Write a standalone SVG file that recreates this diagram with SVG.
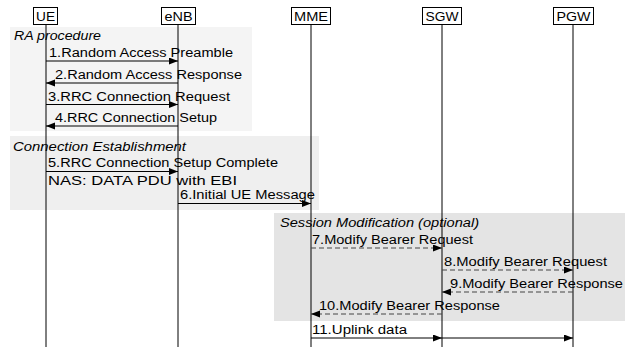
<svg xmlns="http://www.w3.org/2000/svg" width="631" height="351" viewBox="0 0 631 351">
<style>
text{font-family:"Liberation Sans",Arial,sans-serif;font-size:12px;fill:#000}
.it{font-style:italic}
.hd{fill:#fff;stroke:#000;stroke-width:1}
.life{stroke:#000;stroke-width:1}
.msg{stroke:#000;stroke-width:1;fill:none}
.dash{stroke:#444;stroke-width:1;stroke-dasharray:5 3;fill:none}
</style>
<defs>
<marker id="ah" markerWidth="10" markerHeight="8" refX="9" refY="3.5" orient="auto" markerUnits="userSpaceOnUse">
<path d="M0,0 L9,3.5 L0,7 Z" fill="#000"/>
</marker>
</defs>
<rect width="631" height="351" fill="#fff"/>
<g id="regions">
<rect x="10" y="27" width="242" height="104" fill="#f4f4f4"/>
<rect x="10" y="136" width="309" height="74" fill="#efefef"/>
<rect x="274" y="213" width="351" height="108" fill="#e4e4e4"/>
<text class="it" x="14" y="40" textLength="87" lengthAdjust="spacingAndGlyphs">RA procedure</text>
<text class="it" x="13" y="151" textLength="173" lengthAdjust="spacingAndGlyphs">Connection Establishment</text>
<text class="it" x="280" y="227" textLength="199" lengthAdjust="spacingAndGlyphs">Session Modification (optional)</text>
</g>
<g id="UE">
<line class="life" x1="46" y1="25" x2="46" y2="347"/>
<rect class="hd" x="33.5" y="7.5" width="24" height="17"/>
<text x="45.5" y="21" text-anchor="middle" textLength="19" lengthAdjust="spacingAndGlyphs">UE</text>
</g>
<g id="eNB">
<line class="life" x1="178" y1="25" x2="178" y2="347"/>
<rect class="hd" x="161.5" y="7.5" width="34" height="17"/>
<text x="178.5" y="21" text-anchor="middle" textLength="28" lengthAdjust="spacingAndGlyphs">eNB</text>
</g>
<g id="MME">
<line class="life" x1="311" y1="25" x2="311" y2="347"/>
<rect class="hd" x="291.5" y="7.5" width="39" height="17"/>
<text x="311" y="21" text-anchor="middle" textLength="34" lengthAdjust="spacingAndGlyphs">MME</text>
</g>
<g id="SGW">
<line class="life" x1="442" y1="25" x2="442" y2="347"/>
<rect class="hd" x="422.5" y="7.5" width="39" height="17"/>
<text x="442" y="21" text-anchor="middle" textLength="33" lengthAdjust="spacingAndGlyphs">SGW</text>
</g>
<g id="PGW">
<line class="life" x1="573" y1="25" x2="573" y2="347"/>
<rect class="hd" x="553.5" y="7.5" width="40" height="17"/>
<text x="573.5" y="21" text-anchor="middle" textLength="34" lengthAdjust="spacingAndGlyphs">PGW</text>
</g>
<g id="connectors">
<line class="msg" x1="46" y1="61" x2="178" y2="61" marker-end="url(#ah)"/>
<text x="49" y="57" textLength="184" lengthAdjust="spacingAndGlyphs">1.Random Access Preamble</text>
<line class="msg" x1="178" y1="83" x2="46" y2="83" marker-end="url(#ah)"/>
<text x="55" y="79" textLength="187" lengthAdjust="spacingAndGlyphs">2.Random Access Response</text>
<line class="msg" x1="46" y1="104.5" x2="178" y2="104.5" marker-end="url(#ah)"/>
<text x="48" y="100.5" textLength="182" lengthAdjust="spacingAndGlyphs">3.RRC Connection Request</text>
<line class="msg" x1="178" y1="126" x2="46" y2="126" marker-end="url(#ah)"/>
<text x="55" y="122" textLength="162" lengthAdjust="spacingAndGlyphs">4.RRC Connection Setup</text>
<line class="msg" x1="46" y1="171.5" x2="178" y2="171.5" marker-end="url(#ah)"/>
<text x="48" y="167" textLength="230" lengthAdjust="spacingAndGlyphs">5.RRC Connection Setup Complete</text>
<text x="48" y="184.5" textLength="189" lengthAdjust="spacingAndGlyphs">NAS: DATA PDU with EBI</text>
<line class="msg" x1="178" y1="203.5" x2="311" y2="203.5" marker-end="url(#ah)"/>
<text x="180" y="199" textLength="135" lengthAdjust="spacingAndGlyphs">6.Initial UE Message</text>
<line class="dash" x1="311" y1="248" x2="442" y2="248" marker-end="url(#ah)"/>
<text x="312" y="244" textLength="161" lengthAdjust="spacingAndGlyphs">7.Modify Bearer Request</text>
<line class="dash" x1="442" y1="270" x2="573" y2="270" marker-end="url(#ah)"/>
<text x="444" y="266" textLength="163" lengthAdjust="spacingAndGlyphs">8.Modify Bearer Request</text>
<line class="dash" x1="573" y1="292" x2="442" y2="292" marker-end="url(#ah)"/>
<text x="450" y="288" textLength="173" lengthAdjust="spacingAndGlyphs">9.Modify Bearer Response</text>
<line class="dash" x1="442" y1="314" x2="311" y2="314" marker-end="url(#ah)"/>
<text x="319" y="310" textLength="181" lengthAdjust="spacingAndGlyphs">10.Modify Bearer Response</text>
<line class="msg" x1="311" y1="338" x2="442" y2="338" marker-end="url(#ah)"/>
<line class="msg" x1="442" y1="338" x2="573" y2="338" marker-end="url(#ah)"/>
<text x="312" y="334" textLength="95" lengthAdjust="spacingAndGlyphs">11.Uplink data</text>
</g>
</svg>
